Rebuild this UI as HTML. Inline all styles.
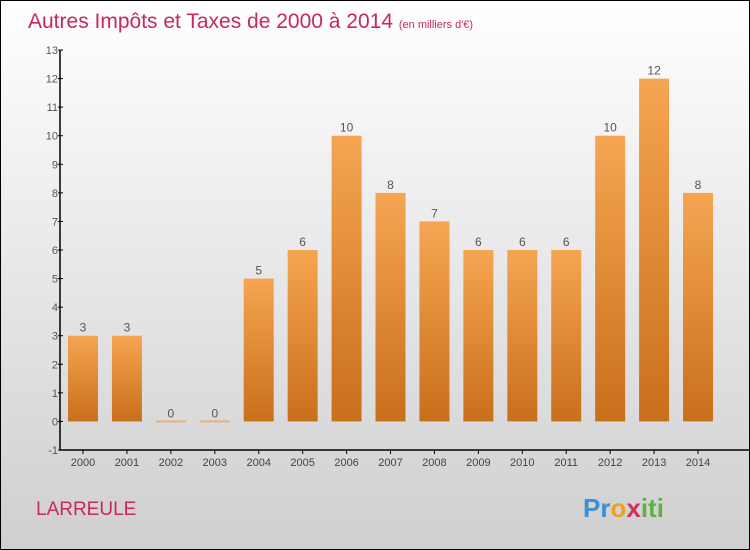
<!DOCTYPE html>
<html><head><meta charset="utf-8"><style>
body{margin:0;}
#wrap{position:relative;width:748px;height:548px;border:1px solid #000;background:linear-gradient(#ffffff,#cfcfcf);font-family:"Liberation Sans",sans-serif;overflow:hidden}
</style></head><body>
<div id="wrap">
<svg id="chart" width="748" height="548" xmlns="http://www.w3.org/2000/svg">
<defs><linearGradient id="bg" x1="0" y1="0" x2="0" y2="1"><stop offset="0" stop-color="#f6a552"/><stop offset="1" stop-color="#c86f1c"/></linearGradient></defs>
<text x="27" y="27" font-size="21" fill="#c8285a">Autres Impôts et Taxes de 2000 à 2014 <tspan font-size="11">(en milliers d'€)</tspan></text>
<text x="35" y="514" font-size="19" fill="#c8285a">LARREULE</text>
<text x="582" y="516" font-size="26" font-weight="bold"><tspan fill="#3a8fd6">Pr</tspan><tspan fill="#f0a020">o</tspan><tspan fill="#d03060">x</tspan><tspan fill="#60b040">iti</tspan></text>
<g id="axes"></g><g id="bars"></g>
</svg>
</div>
<script>
const categories=["2000","2001","2002","2003","2004","2005","2006","2007","2008","2009","2010","2011","2012","2013","2014"];
const values=[3,3,0,0,5,6,10,8,7,6,6,6,10,12,8];
const yTicks=[-1,0,1,2,3,4,5,6,7,8,9,10,11,12,13];
const NS="http://www.w3.org/2000/svg";
const y0=449,yUnit=28.57,xAxis=59;
function y(v){return y0-(v+1)*yUnit;}
function x(i){return 82+i*43.93;}
const axes=document.getElementById('axes'),bars=document.getElementById('bars');
function mk(tag,attrs,parent){const e=document.createElementNS(NS,tag);for(const k in attrs)e.setAttribute(k,attrs[k]);parent.appendChild(e);return e;}
const ya=mk('line',{x1:xAxis,y1:y(13),x2:xAxis,y2:y0,stroke:'#000','stroke-width':1.5},axes);


const xa=mk('line',{x1:xAxis,y1:y0,x2:748,y2:y0,stroke:'#000','stroke-width':1.5},axes);


yTicks.forEach(t=>{
  mk('line',{x1:xAxis-2,y1:y(t),x2:xAxis+3,y2:y(t),stroke:'#000'},axes);
  const tx=mk('text',{x:xAxis-2,y:y(t)+4,'font-size':11,fill:'#555','text-anchor':'end'},axes);
  tx.textContent=t;
  
  
});
categories.forEach((c,i)=>{
  mk('line',{x1:x(i),y1:y0,x2:x(i),y2:y0+4,stroke:'#000'},axes);
  const tx=mk('text',{x:x(i),y:y0+16,'font-size':11,fill:'#444','text-anchor':'middle'},axes);
  tx.textContent=c;
  
  
  const v=values[i];
  const top=y(v),h=Math.max(y(0)-top,2);
  const r=mk('rect',{x:x(i)-15,y:v>0?top:y(0)-1,width:30,height:h,fill:v>0?'url(#bg)':'#e8b07a'},bars);
  
  
  const lb=mk('text',{x:x(i),y:(v>0?top:y(0))-4,'font-size':12,fill:'#555','text-anchor':'middle'},bars);
  lb.textContent=v;
  
  
});
</script>
</body></html>
